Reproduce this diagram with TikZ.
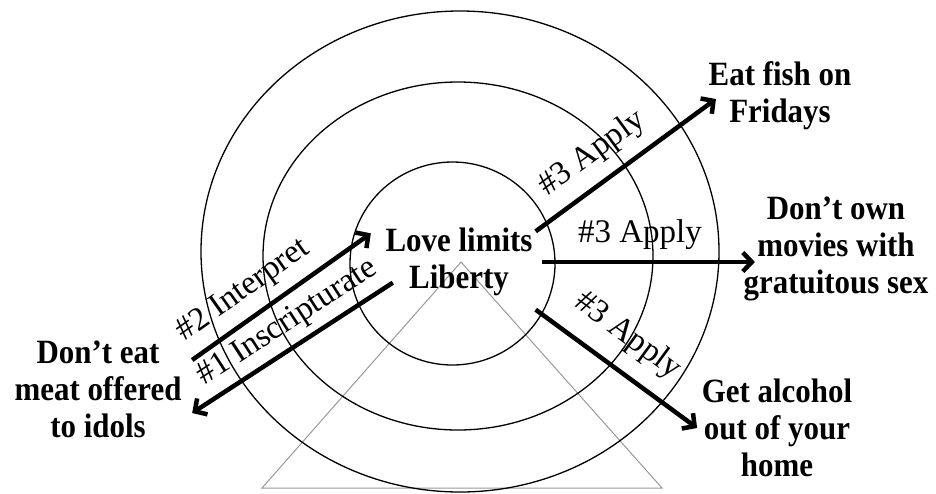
\documentclass[tikz,border=0pt]{standalone}
\usepackage{fontspec}
\setmainfont{Liberation Serif}
\newfontfamily\ideafont{Liberation Serif}[Ligatures=TeX, FakeStretch=0.91]
\usepackage{tikz}
\usetikzlibrary{arrows.meta}

\begin{document}
\begin{tikzpicture}[
    x=1pt, y=-1pt,
    ring/.style={draw=black, line width=1.3pt},
    idea/.style={font=\ideafont\fontsize{34}{37}\selectfont\bfseries, align=center, inner sep=3pt},
    arrow/.style={-{Straight Barb[length=9pt, width=19pt]}, line width=4.5pt},
    steplabel/.style={font=\fontsize{33}{37}\selectfont, sloped, inner sep=3pt}
]
\useasboundingbox (0,0) rectangle (936,493);
% triangle and the three rings behind everything
\draw[black!40, line width=1pt] (262,488) -- (662,488) -- (461,262) -- cycle;
\draw[ring] (452.5,263.5) ellipse [x radius=102.5pt, y radius=101.5pt];
\draw[ring] (458,256) ellipse [x radius=195pt, y radius=174pt];
\draw[ring] (460,251.5) ellipse [x radius=259pt, y radius=240.5pt];

\node[idea] (love) at (459,262) {Love limits\\Liberty};
\node[idea] (fish) at (780,96) {Eat fish on\\Fridays};
\node[idea] (movies) at (836,249) {Don't own\\movies with\\gratuitous sex};
\node[idea] (idols) at (98,389) {Don't eat\\meat offered\\to idols};
\node[idea] (alcohol) at (777,428) {Get alcohol\\out of your\\home};

\draw[arrow] ([xshift=7.5pt,yshift=29pt]idols.east) -- node[steplabel, above=7pt, pos=0.375] (interpret) {\#2 Interpret} ([xshift=-11.5pt,yshift=-8.5pt]love.north west);
\draw[arrow] ([xshift=10.5pt,yshift=16.5pt]love.south west) -- node[steplabel, above=4pt, pos=0.46] (inscripturate) {\#1 Inscripturate} ([xshift=7.5pt,yshift=-24pt]idols.east);
\draw[arrow] ([yshift=-6.5pt]love.north east) -- node[steplabel, above=9pt, pos=0.41] (applyfish) {\#3 Apply} ([xshift=10.5pt,yshift=-3pt]fish.west);
\draw[arrow] ([xshift=6.5pt]love.east) -- node[steplabel, above=7pt, pos=0.46] (applymovies) {\#3 Apply} ([xshift=14.5pt,yshift=-13pt]movies.west);
\draw[arrow] ([yshift=-10.5pt]love.south east) -- node[steplabel, above=13pt, pos=0.45] (applyalcohol) {\#3 Apply} ([xshift=-1.5pt]alcohol.west);
\end{tikzpicture}
\end{document}
